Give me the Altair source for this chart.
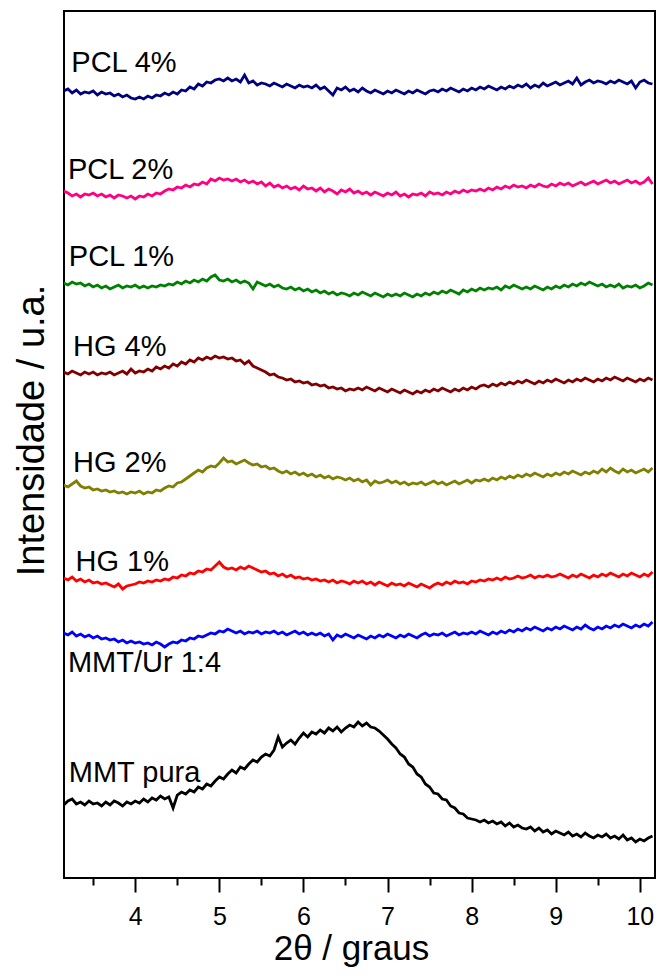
import altair as alt
import pandas as pd

# 2theta grid (degrees), 3.15 .. 10.15 step 0.05
two_theta = [round(3.15 + 0.05 * i, 2) for i in range(141)]

series_names = ["PCL 4%", "PCL 2%", "PCL 1%", "HG 4%", "HG 2%", "HG 1%", "MMT/Ur 1:4", "MMT pura"]
series_colors = ["#000080", "#FF0080", "#008000", "#800000", "#808000", "#FF0000", "#0000FF", "#000000"]

pcl4 = [787, 789, 785, 788, 784, 786, 785, 787, 783, 786,
        784, 785, 782, 784, 781, 783, 780, 779, 781, 779,
        782, 780, 783, 782, 785, 783, 786, 784, 788, 787,
        791, 789, 794, 792, 796, 795, 798, 799, 797, 800,
        797, 799, 796, 803, 795, 797, 793, 795, 794, 792,
        795, 793, 791, 794, 792, 790, 793, 791, 792, 790,
        793, 789, 791, 787, 783, 790, 788, 791, 787, 789,
        786, 790, 787, 785, 788, 786, 784, 787, 785, 788,
        786, 784, 787, 785, 788, 786, 784, 787, 788, 786,
        789, 787, 790, 788, 786, 789, 787, 790, 788, 791,
        789, 792, 790, 788, 791, 789, 792, 790, 793, 791,
        794, 790, 793, 791, 795, 792, 794, 796, 793, 795,
        797, 794, 800, 793, 796, 798, 795, 797, 796, 794,
        797, 795, 798, 796, 794, 797, 790, 796, 798, 795,
        794]

pcl2 = [687, 685, 682, 684, 681, 684, 683, 685, 682, 684,
        681, 683, 680, 683, 682, 680, 682, 679, 682, 681,
        684, 682, 685, 684, 687, 689, 688, 691, 690, 693,
        691, 694, 693, 696, 694, 699, 697, 700, 698, 699,
        697, 699, 696, 698, 695, 697, 694, 696, 692, 695,
        691, 693, 690, 692, 689, 691, 688, 692, 689, 690,
        687, 690, 686, 689, 687, 684, 688, 686, 689, 685,
        687, 684, 686, 683, 686, 684, 682, 685, 683, 686,
        682, 684, 681, 684, 683, 685, 682, 686, 684, 685,
        683, 686, 684, 687, 685, 688, 686, 688, 687, 689,
        687, 690, 688, 691, 689, 692, 690, 693, 691, 692,
        690, 693, 691, 694, 692, 691, 694, 692, 695, 693,
        695, 692, 694, 696, 693, 695, 697, 694, 696, 698,
        695, 697, 694, 696, 698, 695, 697, 694, 696, 700,
        694]

pcl1 = [595, 593, 596, 594, 595, 592, 594, 591, 593, 590,
        592, 589, 591, 593, 590, 592, 591, 593, 590, 592,
        590, 592, 591, 593, 592, 594, 593, 596, 594, 597,
        595, 598, 596, 599, 597, 601, 603, 598, 597, 599,
        596, 598, 595, 597, 595, 589, 596, 594, 592, 594,
        591, 593, 590, 589, 591, 588, 590, 587, 589, 586,
        588, 585, 587, 584, 586, 583, 585, 584, 582, 585,
        583, 586, 584, 582, 585, 583, 581, 584, 582, 584,
        582, 585, 583, 581, 584, 582, 585, 583, 586, 584,
        587, 585, 588, 586, 584, 588, 586, 589, 587, 590,
        588, 590, 589, 591, 588, 592, 590, 593, 591, 589,
        591, 589, 592, 590, 588, 591, 589, 592, 590, 593,
        591, 594, 592, 595, 593, 596, 594, 592, 594, 591,
        593, 591, 594, 590, 592, 591, 593, 590, 592, 595,
        593]

hg4 = [506, 504, 507, 505, 503, 506, 504, 506, 503, 505,
       504, 506, 503, 505, 507, 504, 509, 505, 507, 506,
       509, 507, 511, 509, 512, 510, 514, 512, 516, 514,
       518, 516, 520, 518, 521, 519, 522, 520, 521, 519,
       520, 517, 518, 514, 517, 512, 510, 508, 506, 503,
       504, 501, 500, 498, 499, 496, 497, 495, 496, 493,
       494, 492, 493, 490, 491, 489, 490, 487, 489, 488,
       490, 488, 491, 489, 487, 490, 488, 486, 489, 487,
       485, 488, 486, 484, 487, 485, 488, 486, 489, 487,
       490, 488, 486, 489, 487, 490, 488, 491, 489, 492,
       493, 491, 494, 492, 495, 493, 496, 494, 497, 495,
       498, 496, 494, 497, 495, 498, 496, 499, 497, 495,
       498, 496, 499, 497, 500, 498, 496, 499, 497, 500,
       498, 501, 499, 497, 500, 498, 496, 499, 497, 500,
       498]

hg2 = [393, 391, 394, 397, 392, 390, 391, 388, 389, 387,
       388, 386, 387, 385, 386, 384, 386, 385, 387, 384,
       386, 385, 388, 387, 390, 392, 391, 395, 396, 399,
       402, 405, 408, 406, 410, 412, 411, 415, 420, 416,
       417, 414, 416, 418, 415, 413, 414, 411, 412, 409,
       410, 407, 405, 407, 404, 406, 403, 405, 402, 404,
       401, 403, 400, 402, 399, 401, 400, 398, 400, 397,
       399, 396, 398, 393, 397, 395, 396, 398, 395, 397,
       394, 396, 393, 395, 394, 396, 393, 395, 397, 394,
       396, 393, 395, 397, 394, 396, 398, 395, 398, 397,
       399, 397, 400, 398, 401, 399, 402, 400, 403, 401,
       404, 402, 405, 403, 401, 404, 402, 405, 403, 406,
       404, 407, 405, 403, 406, 404, 407, 405, 409, 406,
       410, 407, 405, 409, 406, 408, 405, 407, 409, 406,
       410]

hg1 = [300, 298, 301, 297, 299, 296, 298, 295, 296, 294,
       295, 293, 291, 294, 289, 292, 293, 294, 296, 295,
       297, 296, 298, 297, 299, 298, 301, 300, 303, 302,
       305, 304, 307, 306, 309, 308, 312, 316, 311, 309,
       310, 308, 311, 309, 312, 310, 308, 306, 307, 304,
       305, 302, 304, 301, 303, 300, 301, 299, 300, 298,
       299, 297, 298, 296, 298, 295, 297, 296, 294, 297,
       295, 297, 294, 296, 293, 296, 294, 292, 295, 293,
       294, 292, 295, 293, 291, 294, 292, 290, 293, 295,
       293, 296, 294, 297, 295, 296, 294, 297, 296, 298,
       297, 299, 298, 300, 298, 301, 299, 300, 302, 300,
       301, 303, 300, 302, 301, 303, 301, 302, 304, 302,
       300, 303, 301, 304, 302, 300, 303, 301, 304, 302,
       305, 303, 301, 304, 302, 305, 303, 301, 304, 302,
       306]

mmt_ur = [245, 243, 246, 242, 244, 241, 243, 240, 242, 239,
          240, 238, 239, 236, 238, 235, 237, 235, 236, 234,
          235, 233, 236, 234, 231, 234, 236, 235, 238, 237,
          240, 239, 242, 241, 243, 245, 244, 247, 246, 249,
          247, 245, 247, 244, 246, 245, 247, 244, 246, 245,
          247, 244, 246, 243, 245, 247, 244, 246, 243, 245,
          243, 245, 242, 244, 238, 243, 241, 244, 242, 240,
          243, 241, 239, 242, 240, 243, 241, 244, 242, 240,
          243, 241, 244, 242, 240, 243, 245, 242, 244, 243,
          245, 242, 244, 246, 243, 245, 244, 246, 244, 247,
          245, 243, 246, 244, 247, 245, 248, 246, 249, 247,
          250, 248, 251, 249, 247, 250, 248, 251, 249, 252,
          250, 248, 251, 249, 253, 250, 248, 251, 249, 252,
          250, 253, 251, 254, 252, 250, 253, 251, 254, 252,
          256]

mmt_pura = [73, 77, 79, 74, 76, 73, 77, 74, 75, 72,
            76, 73, 77, 75, 72, 76, 74, 77, 75, 79,
            76, 80, 78, 82, 79, 81, 70, 83, 86, 84,
            88, 86, 91, 89, 94, 92, 97, 101, 99, 104,
            108, 105, 111, 109, 114, 118, 116, 121, 124, 122,
            128, 141, 131, 135, 138, 134, 140, 145, 141, 146,
            144, 148, 145, 150, 147, 151, 146, 150, 153, 151,
            156, 152, 155, 151, 150, 147, 143, 139, 134, 130,
            124, 121, 114, 111, 104, 101, 94, 91, 85, 84,
            79, 78, 72, 70, 65, 64, 60, 59, 58, 56,
            58, 55, 57, 54, 56, 52, 55, 51, 53, 50,
            49, 51, 47, 50, 46, 48, 44, 47, 45, 43,
            46, 42, 44, 41, 45, 42, 40, 43, 41, 44,
            40, 42, 39, 43, 38, 40, 36, 39, 37, 40,
            42]

all_series = [pcl4, pcl2, pcl1, hg4, hg2, hg1, mmt_ur, mmt_pura]

# label anchor points (2theta, intensity) for the in-plot annotations
label_x = [3.24, 3.20, 3.21, 3.26, 3.26, 3.29, 3.20, 3.21]
label_y = [815, 708, 621, 531, 415, 316, 215, 105]

major_ticks = [4, 5, 6, 7, 8, 9, 10]
minor_ticks = [3.5, 4.5, 5.5, 6.5, 7.5, 8.5, 9.5]

rows = []
for name, vals in zip(series_names, all_series):
    for t, v in zip(two_theta, vals):
        rows.append({"x": t, "I": v, "s": name})
df = pd.DataFrame(rows)
labels_df = pd.DataFrame({"x": label_x, "I": label_y, "s": series_names})

FONT = "Liberation Sans"
xscale = alt.Scale(domain=[3.153, 10.18], nice=False, zero=False)
yscale = alt.Scale(domain=[0, 867], nice=False, zero=False)

lines = alt.Chart(df).mark_line(strokeWidth=2.8, clip=True).encode(
    x=alt.X("x:Q", scale=xscale,
            axis=alt.Axis(values=major_ticks, tickSize=14, tickWidth=2, tickColor="black",
                          labelFontSize=25, labelFont=FONT, labelColor="black", labelPadding=12,
                          domain=False, grid=False, title="2θ / graus", titleFont=FONT,
                          titleFontSize=35, titleFontWeight="normal", titleColor="black",
                          titlePadding=2, titleX=287, orient="bottom")),
    y=alt.Y("I:Q", scale=yscale,
            axis=alt.Axis(labels=False, ticks=False, domain=False, grid=False,
                          title="Intensidade / u.a.", titleFont=FONT, titleFontSize=38,
                          titleFontWeight="normal", titleColor="black", titlePadding=13,
                          titleY=419)),
    color=alt.Color("s:N", scale=alt.Scale(domain=series_names, range=series_colors), legend=None),
    detail="s:N",
)

texts = alt.Chart(labels_df).mark_text(align="left", baseline="middle", font=FONT,
                                        fontSize=29, color="black").encode(
    x=alt.X("x:Q", scale=xscale,
            axis=alt.Axis(values=minor_ticks, tickSize=7, tickWidth=2, tickColor="black",
                          labels=False, domain=False, grid=False, title=None, orient="bottom")),
    y=alt.Y("I:Q", scale=yscale, axis=None),
    text="s:N",
)

chart = alt.layer(lines, texts).resolve_axis(x="independent", y="independent").properties(
    width=591, height=867,
    autosize=alt.AutoSizeParams(type="none"),
    padding={"left": 56, "top": 3, "right": 1, "bottom": 90},
).configure_view(stroke="black", strokeWidth=2)

chart.save("out.html", embed_options={"renderer": "svg", "actions": False})
